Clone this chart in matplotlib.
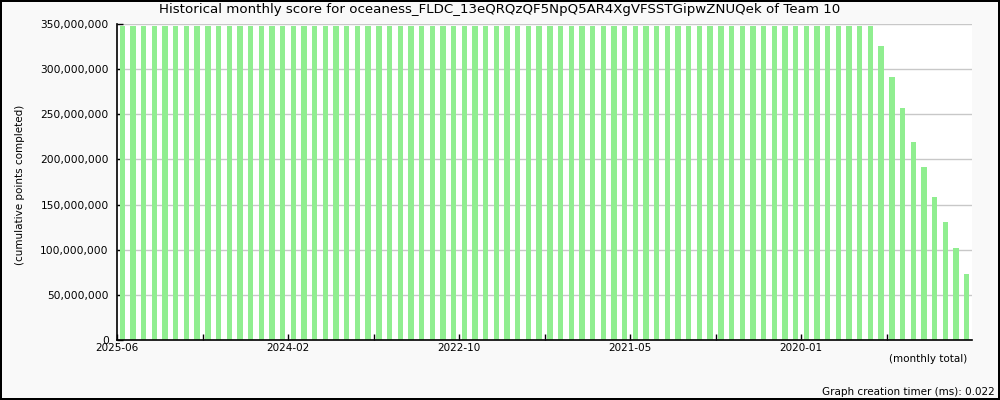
import matplotlib
matplotlib.use("Agg")
import matplotlib.pyplot as plt
from matplotlib.ticker import FuncFormatter, FixedLocator, MultipleLocator

# monthly cumulative score, newest month first
scores = [
    348000000, 348000000, 348000000, 348000000, 348000000, 348000000, 348000000, 348000000, 348000000, 348000000,
    348000000, 348000000, 348000000, 348000000, 348000000, 348000000, 348000000, 348000000, 348000000, 348000000,
    348000000, 348000000, 348000000, 348000000, 348000000, 348000000, 348000000, 348000000, 348000000, 348000000,
    348000000, 348000000, 348000000, 348000000, 348000000, 348000000, 348000000, 348000000, 348000000, 348000000,
    348000000, 348000000, 348000000, 348000000, 348000000, 348000000, 348000000, 348000000, 348000000, 348000000,
    348000000, 348000000, 348000000, 348000000, 348000000, 348000000, 348000000, 348000000, 348000000, 348000000,
    348000000, 348000000, 348000000, 348000000, 348000000, 348000000, 348000000, 348000000, 348000000, 348000000,
    348000000,
    326000000, 291600000, 257300000, 219600000, 191900000, 158700000, 130300000, 102200000, 73400000,
]
label_months = ["2025-06", "2024-02", "2022-10", "2021-05", "2020-01"]
label_index = [0, 16, 32, 48, 64]

title = "Historical monthly score for oceaness_FLDC_13eQRQzQF5NpQ5AR4XgVFSSTGipwZNUQek of Team 10"

fig = plt.figure(figsize=(10, 4), dpi=100)
fig.patch.set_facecolor("#f9f9f9")
fig.patch.set_edgecolor("black")
fig.patch.set_linewidth(1.5)

ax = fig.add_axes([0.117, 0.15, 0.855, 0.79])
ax.set_facecolor("white")

x = [i + 0.5 for i in range(len(scores))]
ax.bar(x, scores, width=0.5, color="#90ee90", zorder=2)

ax.set_xlim(0, len(scores))
ax.set_ylim(0, 350000000)
ax.yaxis.set_major_locator(MultipleLocator(50000000))
ax.yaxis.set_major_formatter(FuncFormatter(lambda v, p: f"{int(v):,}"))
ax.grid(axis="y", color="#c8c8c8", linewidth=1, zorder=0)

ax.set_xticks(label_index)
ax.set_xticklabels(label_months)
ax.xaxis.set_minor_locator(FixedLocator([8, 24, 40, 56, 72]))

ax.tick_params(axis="both", which="both", direction="in", length=4, width=1,
               labelsize=7.5, pad=2, colors="black")
ax.tick_params(axis="y", pad=6, labelsize=7.7)

for s in ["top", "right"]:
    ax.spines[s].set_visible(False)
for s in ["left", "bottom"]:
    ax.spines[s].set_linewidth(1.2)

ax.set_ylabel("(cumulative points completed)", fontsize=7.5)
ax.yaxis.set_label_coords(-0.108, 0.49)

fig.text(0.5, 0.975, title, ha="center", va="center", fontsize=9.6)
fig.text(0.967, 0.103, "(monthly total)", ha="right", va="center", fontsize=7.5)
fig.text(0.995, 0.02, "Graph creation timer (ms): 0.022", ha="right", va="center", fontsize=7.5)

fig.savefig("out.png", dpi=100, facecolor=fig.get_facecolor(), edgecolor=fig.get_edgecolor())
